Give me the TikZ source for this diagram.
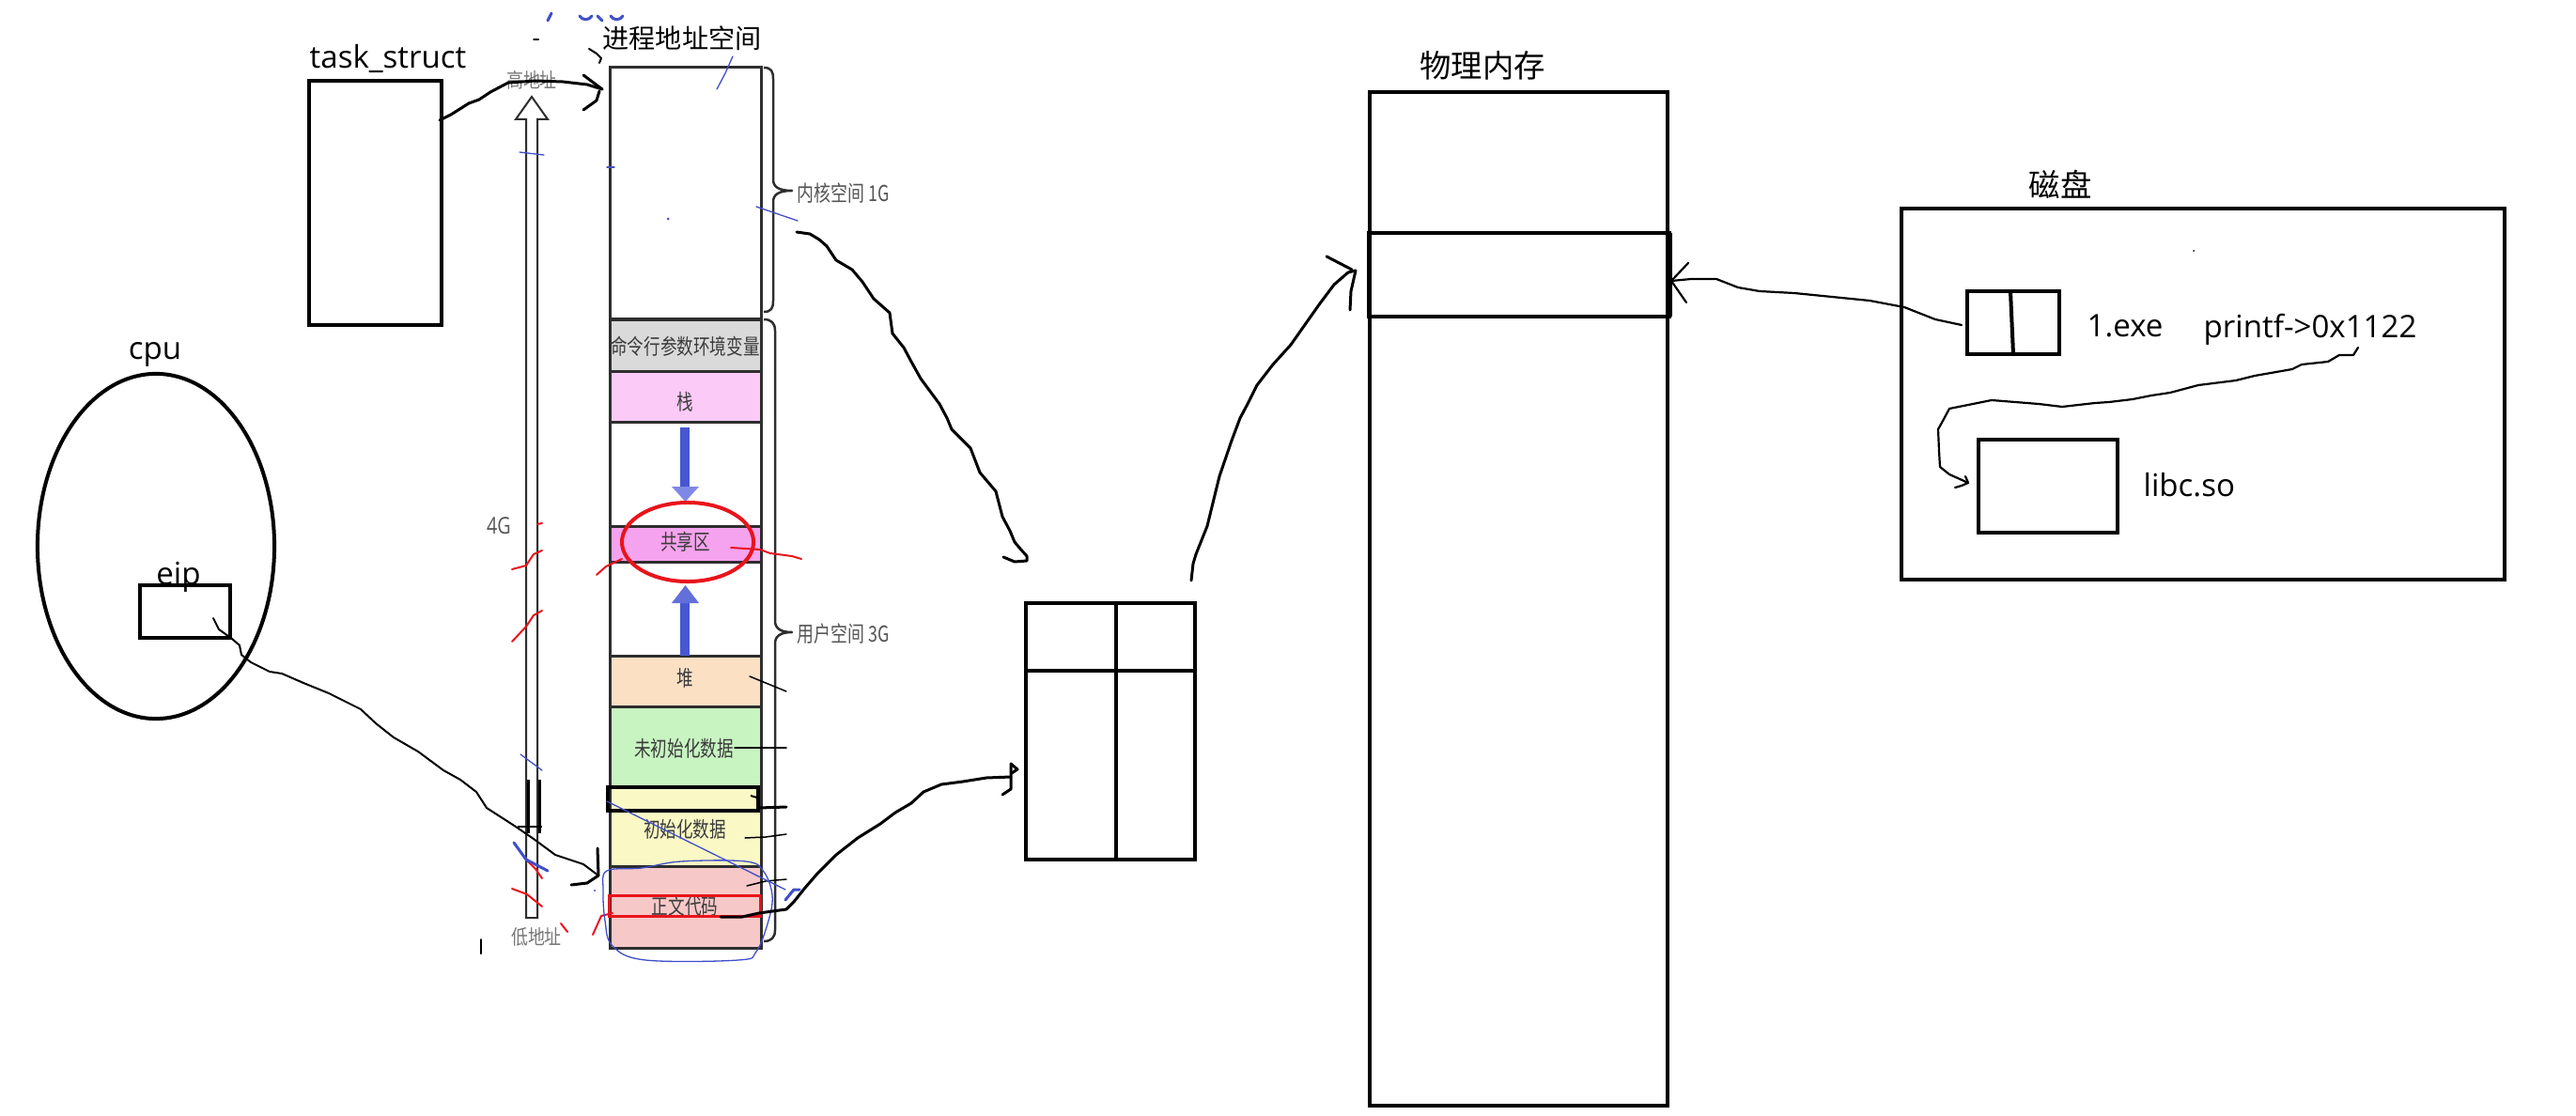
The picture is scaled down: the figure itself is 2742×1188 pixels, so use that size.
\documentclass[tikz,border=0pt]{standalone}
\usepackage{fontspec}
\setmainfont{Open Sans}
\newfontfamily\cjk{Noto Sans CJK SC}
\usetikzlibrary{shapes.geometric}
\definecolor{segedge}{HTML}{2E2E2E}
\definecolor{gtext}{HTML}{3C3C3C}
\definecolor{ltext}{HTML}{555555}
\definecolor{cgray}{HTML}{DADADA}
\definecolor{cpink}{HTML}{FBCAF6}
\definecolor{cmag}{HTML}{F5A3EE}
\definecolor{cpeach}{HTML}{FCE0C4}
\definecolor{cgreen}{HTML}{C8F4C2}
\definecolor{cyellow}{HTML}{FAF8C4}
\definecolor{cred}{HTML}{F7C8C8}
\definecolor{penred}{HTML}{E8141C}
\definecolor{penblue}{HTML}{3F4FC8}
\definecolor{arrblue}{HTML}{4757D2}
\definecolor{arrhead}{HTML}{8088E6}
\begin{document}
\begin{tikzpicture}[x=0.01cm,y=-0.01cm,
  box/.style={draw, line width=0.04cm, inner sep=0, outer sep=0},
  pen/.style={draw, line width=0.03cm, line join=round, line cap=round},
  thinpen/.style={draw, line width=0.02cm, line join=round, line cap=round},
  seg/.style={draw=segedge, line width=0.03cm},
  collabel/.style={text=gtext, font=\cjk\fontsize{5pt}{6pt}\selectfont, inner sep=0},
  sidelabel/.style={text=ltext, font=\cjk\fontsize{5.1pt}{6pt}\selectfont, inner sep=0},
  handlabel/.style={font=\fontsize{9.4pt}{11pt}\selectfont, inner sep=0},
  cjklabel/.style={font=\cjk\fontsize{9.5pt}{11pt}\selectfont, inner sep=0},
  redpen/.style={draw=penred, line width=0.02cm, line cap=round, line join=round},
  bluepen/.style={draw=penblue, line width=0.013cm, line cap=round, line join=round},
  bracestyle/.style={draw=segedge, line width=0.025cm, line join=round}
]
\useasboundingbox (0,0) rectangle (2742,1188);
\fill[white] (0,0) rectangle (2742,1188);

% ---------------- task_struct
\node[handlabel, anchor=base west] (tasklbl) at (329,73) {task\_struct};
\node[box, minimum width=1.41cm, minimum height=2.60cm] (task) at (399.5,216) {};

% ---------------- process address space column
\node[cjklabel, font=\cjk\fontsize{8pt}{10pt}\selectfont, anchor=base west] (pastitle) at (641,52) {进程地址空间};
\fill[cgray]   (649,340) rectangle (810,395);
\fill[cpink]   (649,395) rectangle (810,449);
\fill[cmag]    (649,560) rectangle (810,598);
\fill[cpeach]  (649,698) rectangle (810,752);
\fill[cgreen]  (649,752) rectangle (810,838);
\fill[cyellow] (649,838) rectangle (810,922);
\fill[cred]    (649,922) rectangle (810,1009);
\foreach \yy in {340,395,449,560,598,698,752,838,922}
  \draw[seg] (649,\yy) -- (810,\yy);
\draw[seg] (649,72) rectangle (810,1009);

\node[collabel] (lcmd)  at (729.5,369) {\scalebox{1}[1.3]{命令行参数环境变量}};
\node[collabel] (lstk)  at (729.5,428) {\scalebox{1}[1.3]{栈}};
\node[collabel] (lshr)  at (729.5,577) {\scalebox{1}[1.3]{共享区}};
\node[collabel] (lheap) at (729.5,722) {\scalebox{1}[1.3]{堆}};
\node[collabel] (lbss)  at (728,797) {\scalebox{1}[1.3]{未初始化数据}};
\node[collabel] (ldata) at (729,883) {\scalebox{1}[1.3]{初始化数据}};
\node[collabel] (ltext) at (729,965) {\scalebox{1}[1.3]{正文代码}};

% blue growth arrows
\fill[arrblue] (724,455) rectangle (734,519);
\fill[arrhead] (715,518) -- (744,518) -- (729.5,534) -- cycle;
\fill[arrblue] (724,641) rectangle (734,698);
\fill[arrblue!85!white] (715,642) -- (744,642) -- (729.5,623) -- cycle;

% braces
\draw[bracestyle] (813,72) .. controls (821,72) and (823,76) .. (823,84) -- (823,191)
  .. controls (823,199) and (829,203) .. (843,203) .. controls (829,203) and (823,207) .. (823,215)
  -- (823,320) .. controls (823,328) and (821,332) .. (813,332);
\draw[bracestyle] (813,340) .. controls (821,340) and (825,344) .. (825,352) -- (825,661)
  .. controls (825,669) and (831,673) .. (843,673) .. controls (831,673) and (825,677) .. (825,685)
  -- (825,990) .. controls (825,998) and (821,1002) .. (813,1002);
\node[sidelabel, anchor=west] (lkern) at (848,206) {\scalebox{1}[1.3]{内核空间 1G}};
\node[sidelabel, anchor=west] (luser) at (848,675) {\scalebox{1}[1.3]{用户空间 3G}};

% 4G axis (hollow arrow)
\draw[draw=segedge, line width=0.02cm, line join=miter]
  (560,977) -- (560,127) -- (549,127) -- (566,103) -- (583,127) -- (572,127) -- (572,977) -- cycle;
\node[sidelabel, text=ltext!80!white] (lhigh) at (566,85) {\scalebox{1}[1.2]{高地址}};
\node[sidelabel, text=ltext!80!white] (llow)  at (571,997) {\scalebox{1}[1.2]{低地址}};
\node[sidelabel, font=\fontsize{5.6pt}{6pt}\selectfont] (l4g) at (531,560) {\scalebox{1}[1.25]{4G}};
\draw[line width=0.03cm] (562,830) -- (562,887);
\draw[line width=0.03cm] (574,830) -- (574,887);
\draw[line width=0.012cm] (551,880) -- (577,880);

% marks on the column
\draw[box] (647,838) rectangle (807,863);
\draw[line width=0.02cm] (799,847) -- (809,850);
\draw[draw=penred, line width=0.03cm] (648,953) rectangle (809,975);
\node[draw=penred, ellipse, line width=0.04cm, minimum width=1.40cm, minimum height=0.84cm, inner sep=0] (shrcircle) at (732,577) {};
\draw[thinpen, line width=0.015cm] (798,720) -- (837,736);
\draw[thinpen, line width=0.015cm] (782,796) -- (837,796);
\draw[thinpen, line width=0.03cm] (808,860) -- (837,859);
\draw[thinpen, line width=0.015cm] (793,892) -- (815,891) -- (837,888);
\draw[thinpen, line width=0.015cm] (795,943) -- (815,938) -- (837,936);
\draw[thinpen] (512,1000) -- (512,1015);

% red scribbles
\draw[redpen] (778,583) -- (809,585) -- (820,589) -- (843,592) -- (853,595);
\draw[redpen] (635,612) -- (645,603) -- (662,595);
\draw[redpen] (572,558) -- (577,557);
\draw[redpen] (545,606) -- (560,602) -- (568,590) -- (577,586);
\draw[redpen] (545,683) -- (560,667) -- (568,655) -- (577,650);
\draw[redpen] (545,946) -- (561,952) -- (577,965);
\draw[redpen] (558,913) -- (570,925) -- (577,935);
\draw[redpen] (597,983) -- (604,992);
\draw[redpen] (631,995) -- (640,975) -- (652,972);

% blue scribbles
\draw[bluepen] plot[smooth cycle, tension=0.6] coordinates {(646,927) (683,924) (725,917) (794,917) (813,928) (822,953) (818,980) (805,1013) (786,1022) (687,1022) (652,1007) (644,980) (642,947)};
\draw[bluepen] (646,853) -- (836,947);
\draw[bluepen] (763,95) -- (772,78) -- (780,60);
\draw[bluepen] (553,162) -- (579,165);
\draw[bluepen] (646,178) -- (654,178);
\draw[bluepen] (805,220) -- (849,235);
\fill[penblue] (711,233) circle (0.015cm);
\draw[bluepen] (554,803) -- (577,820);
\draw[bluepen, line width=0.03cm] (547,897) -- (560,915) -- (583,927);
\draw[bluepen, line width=0.03cm] (836,958) -- (845,947) -- (851,947);
\fill[penblue] (633,948) circle (0.012cm);
\draw[bluepen, line width=0.03cm] (583,22) -- (587,14);
\draw[bluepen, line width=0.03cm] (617,17) .. controls (620,22) and (627,22) .. (630,17);
\draw[bluepen, line width=0.03cm] (636,17) -- (641,22);
\draw[bluepen, line width=0.03cm] (650,17) .. controls (653,22) and (660,22) .. (663,17);
% small black scribbles near title
\draw[thinpen] (627,52) -- (635,57) -- (640,62) -- (638,67);
\draw[thinpen] (568,42) -- (573,42);

% ---------------- cpu
\node[handlabel, anchor=base] (cpulbl) at (165,382) {cpu};
\node[ellipse, draw, line width=0.04cm, minimum width=2.52cm, minimum height=3.67cm, inner sep=0] (cpu) at (166,581.5) {};
\node[box, minimum width=0.95cm, minimum height=0.56cm] (eipbox) at (197,651) {};
\node[handlabel, anchor=base] (eiplbl) at (190,622) {eip};

% ---------------- page table
\node[box, minimum width=1.80cm, minimum height=2.73cm] (ptab) at (1182,778.5) {};
\draw[box] (1092,714) -- (1274,714);
\draw[box] (1188,642) -- (1188,915);

% ---------------- physical memory
\node[cjklabel, anchor=base] (pmlbl) at (1578,83) {物理内存};
\node[box, minimum width=3.17cm, minimum height=10.79cm] (pmem) at (1616.5,637.5) {};
\draw[box] (1457,248) rectangle (1777,337);
\draw[line width=0.06cm] (1777,248) -- (1777,337);

% ---------------- disk
\node[cjklabel, anchor=base] (disklbl) at (2193,209) {磁盘};
\node[box, minimum width=6.42cm, minimum height=3.95cm] (disk) at (2345,419.5) {};
\node[box, minimum width=0.98cm, minimum height=0.67cm] (exe) at (2143,343.5) {};
\draw[box] (2140,310) -- (2143,377);
\node[handlabel, anchor=base west] (exelbl) at (2221,358) {1.exe};
\node[handlabel, anchor=base west] (pflbl) at (2345,360) {printf->0x1122};
\node[box, minimum width=1.48cm, minimum height=0.99cm] (libc) at (2180,517.5) {};
\node[handlabel, anchor=base west] (libclbl) at (2281,528) {libc.so};
\fill (2335,267) circle (0.01cm);

% ---------------- connector end points
\coordinate (a0) at (468,128);   \coordinate (a1) at (641,95);
\coordinate (b0) at (848,247);   \coordinate (b1) at (1093,597);
\coordinate (c0) at (1268,618);  \coordinate (c1) at (1443,288);
\coordinate (d0) at (2088,346);  \coordinate (d1) at (1779,299);
\coordinate (e0) at (2510,370);  \coordinate (e1) at (2095,514);
\coordinate (f0) at (767,976);   \coordinate (f1) at (1083,819);
\coordinate (g0) at (227,658);   \coordinate (g1) at (637,932);

% A: task_struct -> address space
\draw[pen] (a0) -- (480,122) -- (499,110) -- (510,106) -- (522,98) -- (541,88) -- (570,86) -- (599,87) -- (625,90) -- (a1);
\draw[pen] (621,80) -- (a1);
\draw[pen] (621,117) -- (635,107) -- (638,97);

% B: kernel space -> page table
\draw[pen] (b0) -- (862,249) -- (872,255) -- (880,262) -- (890,277) -- (907,287) -- (918,300) -- (930,318) -- (947,333) -- (950,355) -- (962,370) -- (970,385) -- (980,403) -- (1000,430) -- (1008,445) -- (1013,457) -- (1033,477) -- (1043,503) -- (1060,523) -- (1067,550) -- (1075,565) -- (1080,577) -- (1085,583) -- (1093,592) -- (b1) -- (1080,598) -- (1068,593);

% C: page table -> physical memory
\draw[pen] (c0) -- (1270,600) -- (1273,590) -- (1285,560) -- (1298,507) -- (1311,469) -- (1320,445) -- (1328,430) -- (1338,410) -- (1355,388) -- (1374,367) -- (1393,340) -- (1405,323) -- (1420,303) -- (1435,290) -- (c1);
\draw[pen] (1412,273) -- (1439,287);
\draw[pen] (1437,330) -- (1438,310) -- (c1);

% D: 1.exe -> physical memory
\draw[pen, line width=0.022cm] (d0) -- (2060,340) -- (2027,327) -- (1990,320) -- (1950,316) -- (1910,312) -- (1873,310) -- (1850,306) -- (1827,297) -- (1800,297) -- (d1);
\draw[pen, line width=0.022cm] (1797,280) -- (d1) -- (1795,322);

% E: printf -> libc.so
\draw[pen, line width=0.022cm] (e0) -- (2505,378) -- (2490,378) -- (2478,385) -- (2450,388) -- (2440,393) -- (2400,400) -- (2380,405) -- (2340,410) -- (2310,418) -- (2290,421) -- (2270,425) -- (2245,428) -- (2230,429) -- (2195,433) -- (2170,430) -- (2120,426) -- (2090,432) -- (2075,435) -- (2068,448) -- (2063,457) -- (2064,480) -- (2065,497) -- (2075,505) -- (e1);
\draw[pen, line width=0.022cm] (2081,519) -- (2088,517) -- (e1) -- (2092,507);

% F: text segment -> page table
\draw[pen] (f0) -- (790,976) -- (808,972) -- (837,968) -- (845,960) -- (857,945) -- (870,930) -- (890,910) -- (913,892) -- (937,877) -- (953,865) -- (970,855) -- (983,843) -- (1002,835) -- (1025,832) -- (1050,828) -- (1076,827);
\draw[pen] (1076,813) -- (1076,840) -- (1067,846);
\draw[pen] (1076,813) -- (f1) -- (1077,823);

% G: eip -> text segment
\draw[thinpen] (g0) -- (233,670) -- (247,680) -- (255,687) -- (257,697) -- (267,705) -- (287,715) -- (300,717) -- (323,727) -- (350,738) -- (384,755) -- (400,770) -- (419,785) -- (445,800) -- (472,820) -- (490,830) -- (507,843) -- (518,860) -- (549,880) -- (568,893) -- (591,910) -- (621,920) -- (g1);
\draw[pen] (636,903) -- (g1);
\draw[pen] (608,942) -- (625,940) -- (g1);

\end{tikzpicture}
\end{document}
